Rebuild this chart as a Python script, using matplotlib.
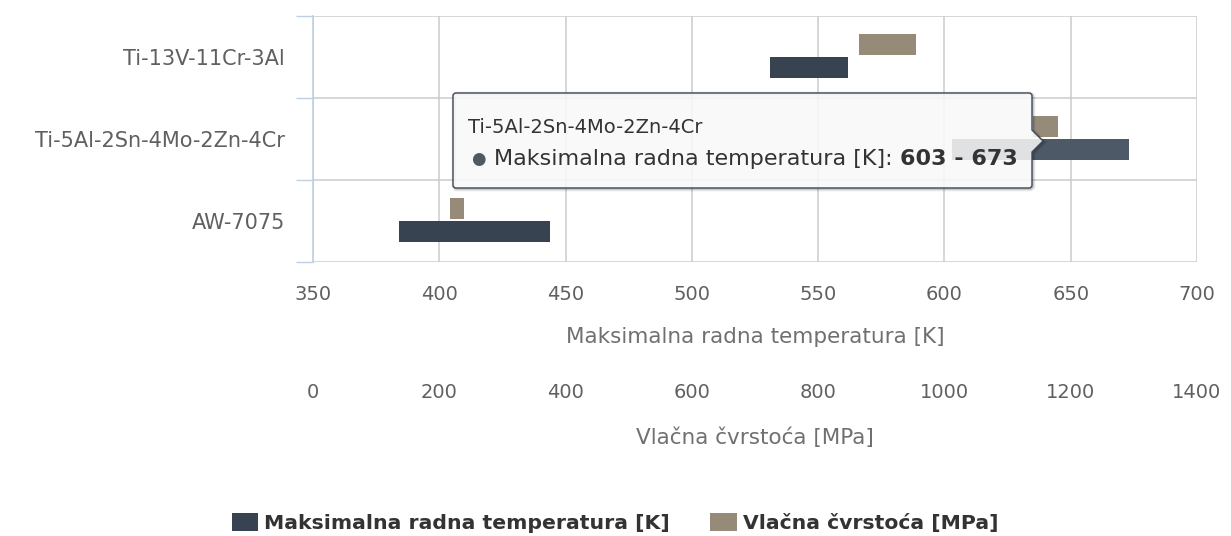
import numpy as np
import matplotlib
matplotlib.use("Agg")
import matplotlib.pyplot as plt
from matplotlib.path import Path
from matplotlib.patches import PathPatch
from matplotlib.transforms import Affine2D, blended_transform_factory

plt.rcParams['font.family'] = ['DejaVu Sans']

# ---- data -------------------------------------------------------------
categories = ['Ti-13V-11Cr-3Al', 'Ti-5Al-2Sn-4Mo-2Zn-4Cr', 'AW-7075']
temp_low = [531, 603, 384]
temp_high = [562, 673, 444]
strength_low = [865, 1140, 217]
strength_high = [955, 1180, 239]
temp_ticks = [350, 400, 450, 500, 550, 600, 650, 700]
strength_ticks = [0, 200, 400, 600, 800, 1000, 1200, 1400]
temp_label = 'Maksimalna radna temperatura [K]'
strength_label = 'Vlačna čvrstoća [MPa]'
hovered = 1  # category whose temperature bar is highlighted

# ---- style ------------------------------------------------------------
DARK = '#374351'
DARK_HOVER = '#4d5966'
TAN = '#968a78'
GRID = '#cccccc'
AXIS_BLUE = '#c0d0e0'
LABEL = '#606060'
TITLE = '#707070'
TEXT = '#333333'

W, H = 1231, 536
fig = plt.figure(figsize=(W / 100, H / 100), dpi=100)
# pixel coordinates measured from the top-left corner of the figure
px = Affine2D().scale(1 / W, -1 / H).translate(0, 1) + fig.transFigure

left, right, top, bottom = 313, 1197, 16, 262
ax = fig.add_axes([left / W, 1 - bottom / H, (right - left) / W, (bottom - top) / H])
ax2 = ax.twiny()

ypos = np.arange(len(categories))
bar_h = 0.26

temp_colors = [DARK_HOVER if i == hovered else DARK for i in range(len(categories))]
temp_bars = ax.barh(ypos + 0.13, np.subtract(temp_high, temp_low), left=temp_low,
                    height=bar_h, color=temp_colors, zorder=3)
str_bars = ax2.barh(ypos - 0.152, np.subtract(strength_high, strength_low),
                    left=strength_low, height=bar_h, color=TAN, zorder=3)

ax.set_xlim(temp_ticks[0], temp_ticks[-1])
ax2.set_xlim(strength_ticks[0], strength_ticks[-1])
ax.set_ylim(len(categories) - 0.5, -0.5)

# category axis
ax.set_yticks(ypos)
ax.set_yticklabels(categories)
ax.set_yticks(np.arange(-0.5, len(categories)), minor=True)
ax.tick_params(axis='y', which='major', length=0, pad=20, labelsize=15, labelcolor=LABEL)
ax.tick_params(axis='y', which='minor', length=12.2, width=1, color=AXIS_BLUE)

# temperature axis
ax.set_xticks(temp_ticks)
ax.tick_params(axis='x', which='both', length=0, pad=16.4, labelsize=14, labelcolor=LABEL)

# strength axis, placed further below
ax2.xaxis.set_ticks_position('bottom')
ax2.xaxis.set_label_position('bottom')
ax2.set_xticks(strength_ticks)
ax2.tick_params(axis='x', which='both', length=0, pad=86.9, labelsize=14, labelcolor=LABEL)

for s in ax.spines.values():
    s.set_visible(False)
for s in ax2.spines.values():
    s.set_visible(False)
ax.spines['left'].set_visible(True)
ax.spines['left'].set_color(AXIS_BLUE)
ax.spines['left'].set_linewidth(1.2)

ax.set_axisbelow(True)
ax.grid(which='major', axis='x', color=GRID, linewidth=1.1)
ax.grid(which='minor', axis='y', color=GRID, linewidth=1.1)
ax.grid(which='major', axis='y', visible=False)

# axis titles
tx = blended_transform_factory(ax.transAxes, px)
fig.text(0.5, 343, temp_label, transform=tx, ha='center', va='baseline',
         fontsize=15.5, color=TITLE)
fig.text(0.5, 444, strength_label, transform=tx, ha='center', va='baseline',
         fontsize=15.5, color=TITLE)

# legend
fig.legend([temp_bars, str_bars], [temp_label, strength_label], loc='center',
           bbox_to_anchor=(615 / W, 1 - 523 / H), ncol=2, frameon=False,
           prop=dict(weight='bold', size=14.7), labelcolor=TEXT,
           handlelength=1.3, handleheight=1.0, handletextpad=0.3,
           columnspacing=1.95, borderaxespad=0, borderpad=0)


# ---- tooltip for the highlighted bar -----------------------------------
def callout_path(L, T, R, B, r, tip, a0, a1):
    verts = [(L + r, T), (R - r, T), (R, T), (R, T + r), (R, a0), tip, (R, a1),
             (R, B - r), (R, B), (R - r, B), (L + r, B), (L, B), (L, B - r),
             (L, T + r), (L, T), (L + r, T), (L + r, T)]
    codes = [Path.MOVETO, Path.LINETO, Path.CURVE3, Path.CURVE3, Path.LINETO,
             Path.LINETO, Path.LINETO, Path.LINETO, Path.CURVE3, Path.CURVE3,
             Path.LINETO, Path.CURVE3, Path.CURVE3, Path.LINETO, Path.CURVE3,
             Path.CURVE3, Path.CLOSEPOLY]
    return Path(verts, codes)


box = dict(L=453, T=93, R=1032, B=188, r=3, tip=(1043, 141), a0=130, a1=152)
shadow_path = callout_path(**box)
for lw, a in [(5, 0.05), (3, 0.1), (1, 0.15)]:
    sp = PathPatch(shadow_path, transform=Affine2D().translate(1, 1) + px,
                   facecolor='none', edgecolor=(0, 0, 0, a), linewidth=lw * 0.72)
    fig.add_artist(sp)
tip_patch = PathPatch(callout_path(**box), transform=px,
                      facecolor=(0.976, 0.976, 0.976, 0.86),
                      edgecolor='#3d4856', linewidth=1.0)
fig.add_artist(tip_patch)

fig.text(468 / W, 1 - 133 / H, categories[hovered], ha='left', va='baseline',
         fontsize=14, color=TEXT)
fig.text(471 / W, 1 - 164 / H, '\u25CF', ha='left', va='baseline',
         fontsize=12, color=temp_colors[hovered])
body = fig.text(494 / W, 1 - 165 / H, temp_label + ':', ha='left', va='baseline',
                fontsize=16, color=TEXT)
renderer = fig.canvas.get_renderer()
bb = body.get_window_extent(renderer)
x_end = bb.x1 / fig.bbox.width * W
fig.text((x_end + 7) / W, 1 - 165 / H,
         f'{temp_low[hovered]} - {temp_high[hovered]}', ha='left', va='baseline',
         fontsize=16, fontweight='bold', color=TEXT)

fig.savefig('out.png', dpi=100, facecolor='white')
